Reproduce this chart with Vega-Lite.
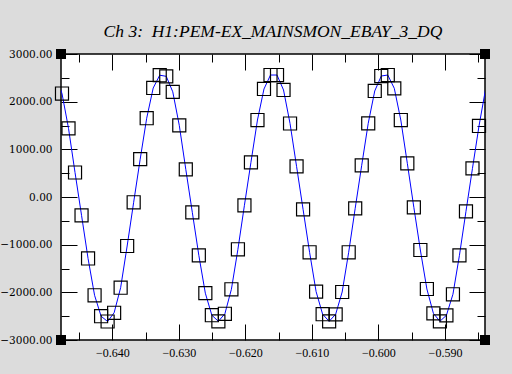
{
  "$schema": "https://vega.github.io/schema/vega-lite/v6.json",
  "width": 424,
  "height": 286,
  "autosize": {"type": "none"},
  "padding": {"left": 61, "top": 54, "right": 27, "bottom": 34},
  "background": "#dcdcdc",
  "view": {"fill": "white", "stroke": "black", "strokeWidth": 1.5},
  "title": {"text": "Ch 3:\u00a0 H1:PEM-EX_MAINSMON_EBAY_3_DQ", "font": "Liberation Serif", "fontStyle": "italic", "fontWeight": "normal", "fontSize": 17.5, "color": "black", "anchor": "middle", "frame": "group", "baseline": "alphabetic", "offset": -5},
  "datasets": {
    "samples": [
      {"t": -0.648557, "v": 2560},
      {"t": -0.647577, "v": 2171},
      {"t": -0.646598, "v": 1441},
      {"t": -0.645618, "v": 514},
      {"t": -0.644639, "v": -384},
      {"t": -0.643659, "v": -1290},
      {"t": -0.642680, "v": -2062},
      {"t": -0.641700, "v": -2501},
      {"t": -0.640721, "v": -2612},
      {"t": -0.639741, "v": -2429},
      {"t": -0.638762, "v": -1903},
      {"t": -0.637782, "v": -1028},
      {"t": -0.636803, "v": -111},
      {"t": -0.635823, "v": 793},
      {"t": -0.634844, "v": 1653},
      {"t": -0.633864, "v": 2287},
      {"t": -0.632885, "v": 2555},
      {"t": -0.631905, "v": 2532},
      {"t": -0.630926, "v": 2207},
      {"t": -0.629946, "v": 1504},
      {"t": -0.628967, "v": 581},
      {"t": -0.627987, "v": -321},
      {"t": -0.627008, "v": -1223},
      {"t": -0.626028, "v": -2018},
      {"t": -0.625049, "v": -2480},
      {"t": -0.624069, "v": -2608},
      {"t": -0.623090, "v": -2450},
      {"t": -0.622110, "v": -1936},
      {"t": -0.621131, "v": -1097},
      {"t": -0.620151, "v": -174},
      {"t": -0.619172, "v": 728},
      {"t": -0.618192, "v": 1615},
      {"t": -0.617213, "v": 2266},
      {"t": -0.616233, "v": 2559},
      {"t": -0.615254, "v": 2559},
      {"t": -0.614274, "v": 2245},
      {"t": -0.613295, "v": 1542},
      {"t": -0.612315, "v": 644},
      {"t": -0.611336, "v": -258},
      {"t": -0.610356, "v": -1160},
      {"t": -0.609377, "v": -1985},
      {"t": -0.608397, "v": -2459},
      {"t": -0.607418, "v": -2608},
      {"t": -0.606438, "v": -2461},
      {"t": -0.605459, "v": -1993},
      {"t": -0.604479, "v": -1160},
      {"t": -0.603500, "v": -237},
      {"t": -0.602520, "v": 665},
      {"t": -0.601541, "v": 1546},
      {"t": -0.600561, "v": 2224},
      {"t": -0.599582, "v": 2538},
      {"t": -0.598602, "v": 2559},
      {"t": -0.597623, "v": 2280},
      {"t": -0.596643, "v": 1615},
      {"t": -0.595664, "v": 707},
      {"t": -0.594684, "v": -216},
      {"t": -0.593705, "v": -1112},
      {"t": -0.592725, "v": -1930},
      {"t": -0.591746, "v": -2440},
      {"t": -0.590766, "v": -2608},
      {"t": -0.589787, "v": -2482},
      {"t": -0.588807, "v": -2041},
      {"t": -0.587828, "v": -1223},
      {"t": -0.586848, "v": -300},
      {"t": -0.585869, "v": 602},
      {"t": -0.584889, "v": 1490},
      {"t": -0.583910, "v": 2255}
    ],
    "corners": [
      {"t": -0.647727, "v": 3000},
      {"t": -0.583987, "v": 3000},
      {"t": -0.647727, "v": -3000},
      {"t": -0.583987, "v": -3000}
    ]
  },
  "layer": [
    {
      "data": {"name": "samples"},
      "mark": {"type": "line", "color": "#0000ff", "strokeWidth": 1, "clip": true},
      "encoding": {
        "x": {"field": "t", "type": "quantitative", "scale": {"domain": [-0.647727, -0.583987], "nice": false, "zero": false},
          "axis": {"orient": "bottom", "values": [-0.64, -0.63, -0.62, -0.61, -0.6, -0.59], "format": ".3f", "ticks": false, "domain": false, "grid": false, "labelPadding": 7, "labelFont": "Liberation Serif", "labelFontSize": 12, "labelColor": "black", "title": null}},
        "y": {"field": "v", "type": "quantitative", "scale": {"domain": [-3000, 3000], "nice": false, "zero": false},
          "axis": {"orient": "left", "values": [-3000, -2000, -1000, 0, 1000, 2000, 3000], "format": ".2f", "ticks": false, "domain": false, "grid": false, "labelPadding": 9, "labelFont": "DejaVu Serif", "labelFontSize": 10.5, "labelColor": "black", "title": null}}
      }
    },
    {
      "data": {"name": "samples"},
      "transform": [{"filter": "datum.t >= -0.647727 && datum.t <= -0.583987"}],
      "mark": {"type": "point", "shape": "square", "filled": false, "stroke": "black", "strokeWidth": 1.2, "size": 170, "opacity": 1},
      "encoding": {
        "x": {"field": "t", "type": "quantitative", "scale": {"domain": [-0.647727, -0.583987], "nice": false, "zero": false},
          "axis": {"orient": "bottom", "values": [-0.645, -0.64, -0.635, -0.63, -0.625, -0.62, -0.615, -0.61, -0.605, -0.6, -0.595, -0.59, -0.585], "labels": false, "domain": false, "grid": false, "tickColor": "black", "tickWidth": 1,
            "tickSize": {"condition": {"test": "abs(datum.value * 100 - round(datum.value * 100)) < 0.000001", "value": -16}, "value": -8}, "title": null}},
        "y": {"field": "v", "type": "quantitative", "scale": {"domain": [-3000, 3000], "nice": false, "zero": false},
          "axis": {"orient": "left", "values": [-3000, -2500, -2000, -1500, -1000, -500, 0, 500, 1000, 1500, 2000, 2500, 3000], "labels": false, "domain": false, "grid": false, "tickColor": "black", "tickWidth": 1,
            "tickSize": {"condition": {"test": "datum.value % 1000 === 0", "value": -16}, "value": -8}, "title": null}}
      }
    },
    {
      "data": {"name": "corners"},
      "mark": {"type": "point", "shape": "square", "filled": true, "color": "black", "size": 100, "opacity": 1, "clip": false},
      "encoding": {
        "x": {"field": "t", "type": "quantitative", "scale": {"domain": [-0.647727, -0.583987], "nice": false, "zero": false},
          "axis": {"orient": "top", "values": [-0.645, -0.64, -0.635, -0.63, -0.625, -0.62, -0.615, -0.61, -0.605, -0.6, -0.595, -0.59, -0.585], "labels": false, "domain": false, "grid": false, "tickColor": "black", "tickWidth": 1,
            "tickSize": {"condition": {"test": "abs(datum.value * 100 - round(datum.value * 100)) < 0.000001", "value": -16}, "value": -8}, "title": null}},
        "y": {"field": "v", "type": "quantitative", "scale": {"domain": [-3000, 3000], "nice": false, "zero": false},
          "axis": {"orient": "right", "values": [-3000, -2500, -2000, -1500, -1000, -500, 0, 500, 1000, 1500, 2000, 2500, 3000], "labels": false, "domain": false, "grid": false, "tickColor": "black", "tickWidth": 1,
            "tickSize": {"condition": {"test": "datum.value % 1000 === 0", "value": -16}, "value": -8}, "title": null}}
      }
    }
  ],
  "resolve": {"axis": {"x": "independent", "y": "independent"}}
}
